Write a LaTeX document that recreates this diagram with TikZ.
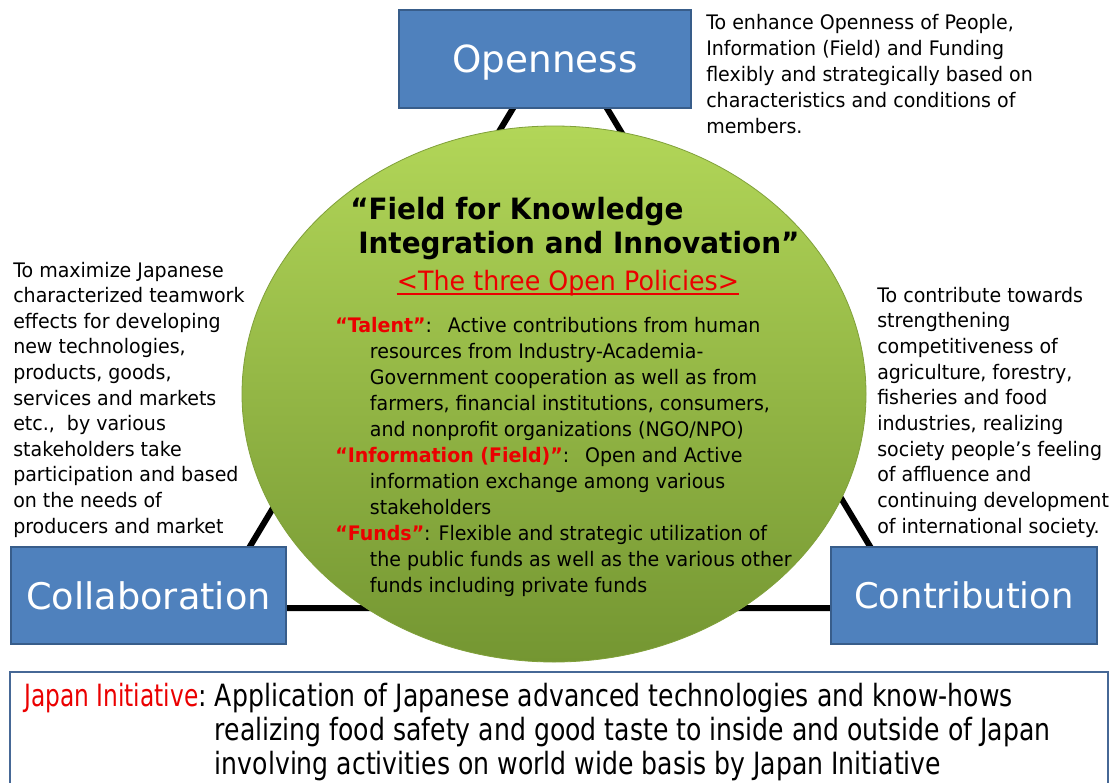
\documentclass[tikz,border=0pt]{standalone}
\usepackage{fontspec}
\setmainfont{DejaVu Sans}
\newfontfamily\bodyf{DejaVu Sans}[FakeStretch=0.95]
\newfontfamily\condf{DejaVu Sans}[FakeStretch=0.82]
\newfontfamily\narrowf{DejaVu Sans}[FakeStretch=0.76]
\definecolor{boxblue}{RGB}{79,129,189}
\definecolor{boxedge}{RGB}{56,93,138}
\definecolor{polred}{RGB}{235,0,0}
\definecolor{gtop}{RGB}{178,214,88}
\definecolor{gmid}{RGB}{156,196,74}
\definecolor{gbot}{RGB}{116,150,50}
\definecolor{gedge}{RGB}{128,160,58}
\definecolor{initedge}{RGB}{70,104,150}
\begin{document}
\begin{tikzpicture}[x=0.75pt,y=-0.75pt,
  bluebox/.style={draw=boxedge, line width=1.5pt, fill=boxblue, text=white, inner sep=0pt},
  txt/.style={anchor=north west, inner sep=0pt, align=left, font=\bodyf\fontsize{15}{19.5}\selectfont},
  tri/.style={line width=4.5pt, draw=black, line join=miter}
]
\useasboundingbox (0,0) rectangle (1117,782);
\clip (0,0) rectangle (1117,782);
\fill[white] (0,0) rectangle (1117,782);

% triangle connecting the three boxes
\coordinate (apex) at (560,30);
\coordinate (bl) at (213,608);
\coordinate (br) at (907,608);
\draw[tri] (apex) -- (bl) -- (br) -- cycle;

% central field
\shade[top color=gtop, middle color=gmid, bottom color=gbot, draw=gedge, line width=0.6pt]
  (554,394) ellipse [x radius=312, y radius=268];

% boxes
\node[bluebox, minimum width=219pt, minimum height=73.5pt, text height=20pt, text depth=0pt, font=\fontsize{28}{32}\selectfont] (open) at (545,59) {Openness};
\node[bluebox, minimum width=206.25pt, minimum height=72.75pt, font=\fontsize{27.5}{32}\selectfont] (collab) at (148.5,595.5) {Collaboration};
\node[bluebox, minimum width=199.5pt, minimum height=72.75pt, font=\fontsize{26.5}{32}\selectfont] (contrib) at (964,595.5) {Contribution};

% side texts
\node[txt] (topt) at (706,11) {\strut To enhance Openness of People,\\Information (Field) and Funding\\flexibly and strategically based on\\characteristics and conditions of\\members.};

\node[txt, font=\bodyf\fontsize{15}{19.2}\selectfont] (leftt) at (13,259) {\strut To maximize Japanese\\characterized teamwork\\effects for developing\\new technologies,\\products, goods,\\services and markets\\etc.,\ \ by various\\stakeholders take\\participation and based\\on the needs of\\producers and market};

\node[txt, font=\bodyf\fontsize{15}{19.25}\selectfont] (rightt) at (877,284) {\strut To contribute towards\\strengthening\\competitiveness of\\agriculture, forestry,\\fisheries and food\\industries, realizing\\society people’s feeling\\of affluence and\\continuing development\\of international society.};

% title in the field
\node[txt, font=\bodyf\bfseries\fontsize{22}{25.5}\selectfont] (title) at (350,195) {\strut “Field for Knowledge\\\hspace*{6pt}Integration and Innovation”};
\node[anchor=base, inner sep=0pt, text=polred, font=\bodyf\fontsize{20}{24}\selectfont] (sub) at (568,290) {<The three Open Policies>};
\draw[polred, line width=1.3pt] ([yshift=-3pt]sub.base west) -- ([yshift=-3pt]sub.base east);

% policies
\node[txt] (pol) at (335,314) {\strut{\bodyf\bfseries\textcolor{polred}{“Talent”}}:\hspace{12pt}Active contributions from human\\
\hspace*{26pt}resources from Industry-Academia-\\
\hspace*{26pt}Government cooperation as well as from\\
\hspace*{26pt}farmers, financial institutions, consumers,\\
\hspace*{26pt}and nonprofit organizations (NGO/NPO)\\
{\bodyf\bfseries\textcolor{polred}{“Information (Field)”}}:\hspace{12pt}Open and Active\\
\hspace*{26pt}information exchange among various\\
\hspace*{26pt}stakeholders\\
{\bodyf\bfseries\textcolor{polred}{“Funds”}}:\hspace{6pt}Flexible and strategic utilization of\\
\hspace*{26pt}the public funds as well as the various other\\
\hspace*{26pt}funds including private funds};

% Japan initiative box
\draw[draw=initedge, line width=2pt, fill=white] (10,672) rectangle (1108,800);
\node[anchor=north west, inner sep=0pt, font=\condf\fontsize{23}{25.5}\selectfont] (init) at (24,682)
{\begin{tabular}{@{}l@{\hspace{6pt}}l@{}}
{\narrowf\textcolor{polred}{Japan Initiative}}: & Application of Japanese advanced technologies and know-hows\\
 & realizing food safety and good taste to inside and outside of Japan\\
 & involving activities on world wide basis by Japan Initiative
\end{tabular}};
\end{tikzpicture}
\end{document}
